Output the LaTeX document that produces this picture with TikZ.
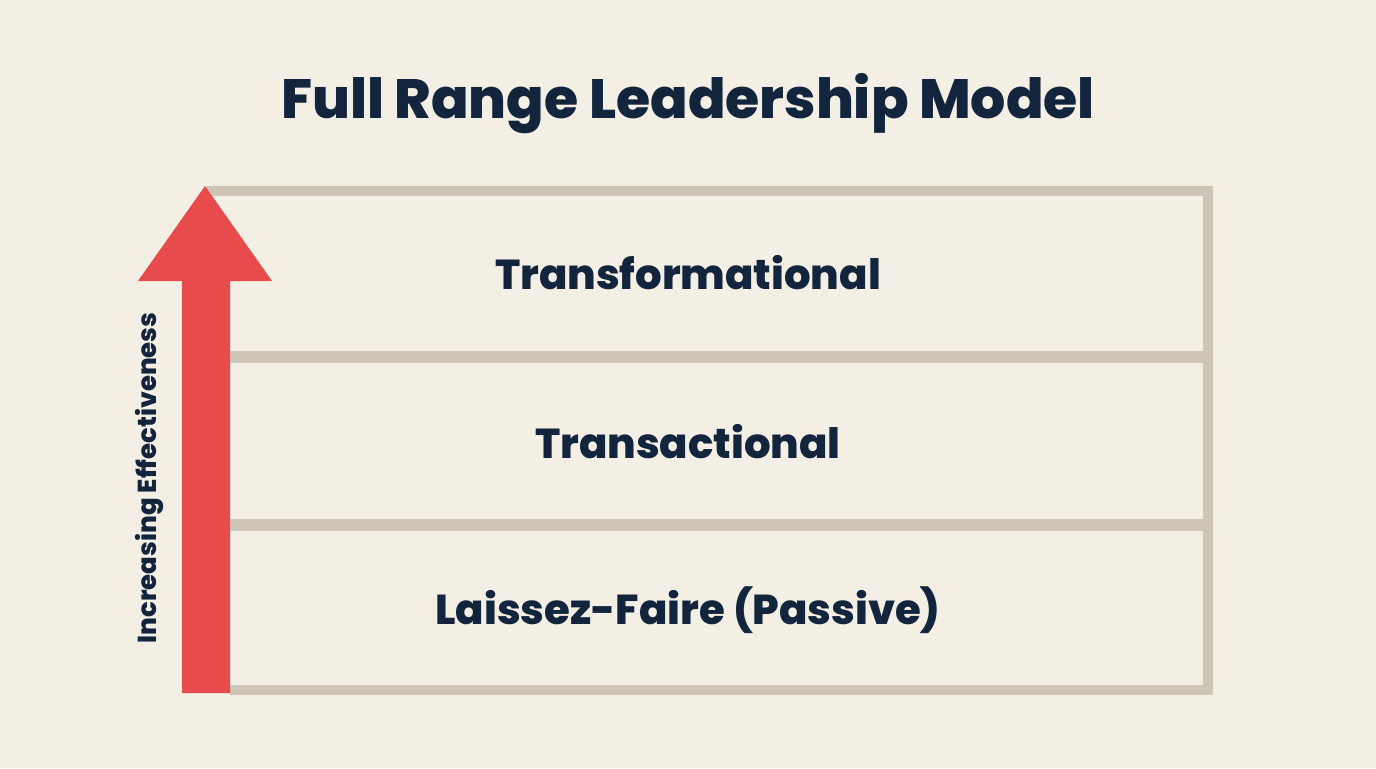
\documentclass[tikz,border=0pt]{standalone}
\usepackage{fontspec}
\setmainfont{Poppins}[BoldFont={Poppins ExtraBold}]
\definecolor{cream}{HTML}{F3EFE4}
\definecolor{frameline}{HTML}{CEC5B7}
\definecolor{arrowred}{HTML}{E84B4B}
\definecolor{navy}{HTML}{13243D}
\begin{document}
\begin{tikzpicture}[x=0.02cm, y=-0.02cm,
	tier/.style={text=navy, font=\bfseries\fontsize{23.8}{28}\selectfont},
	divider/.style={draw=frameline, line width=10*0.02cm}]
	\fill[cream] (0,0) rectangle (1376,768);
	\useasboundingbox (0,0) rectangle (1376,768);
	
	\node (title) [text=navy, font=\bfseries\fontsize{31.5}{38}\selectfont] at (688,104) {Full Range Leadership Model};
	
	% frame and dividers
	\draw[divider] (206,191) -- (1208,191) -- (1208,690) -- (230,690);
	\draw[divider, line width=12*0.02cm] (230,357) -- (1208,357);
	\draw[divider, line width=12*0.02cm] (230,525) -- (1208,525);
	
	% arrow
	\fill[arrowred] (182,693) -- (182,281) -- (138,281) -- (205,186) -- (272,281) -- (230,281) -- (230,693) -- cycle;
	\node (effect) [text=navy, rotate=90, font=\bfseries\fontsize{14.8}{18}\selectfont] at (149,478) {Increasing Effectiveness};
	
	\node (transformational) [tier] at (688,273) {Transformational};
	\node (transactional) [tier, below of=transformational, node distance=3.37cm] {Transactional};
	\node (laissez) [tier, below of=transactional, node distance=3.37cm] {Laissez-Faire (Passive)};
\end{tikzpicture}
\end{document}
